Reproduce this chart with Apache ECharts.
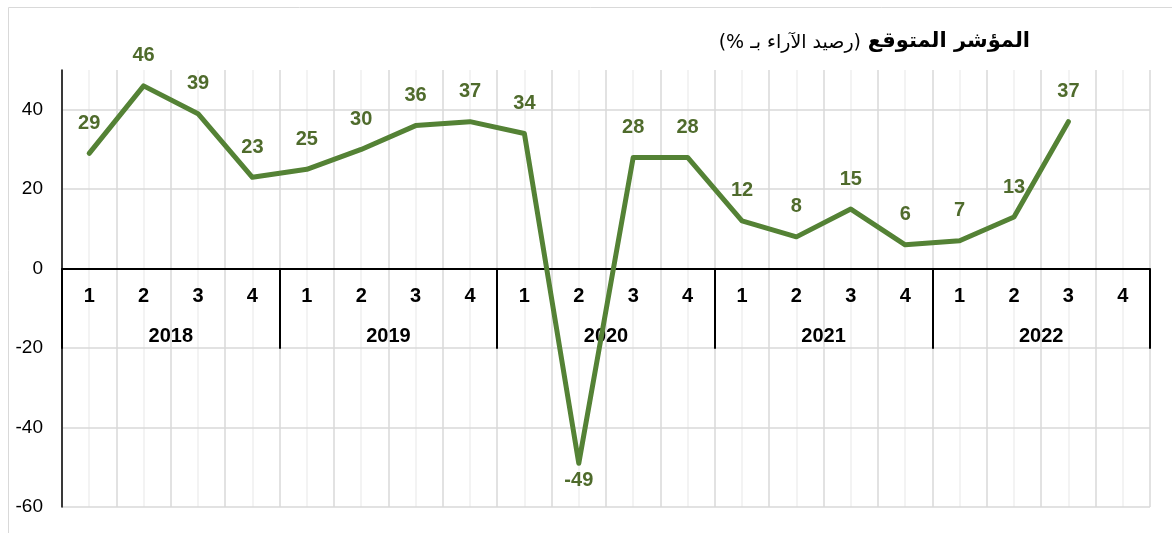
<!DOCTYPE html>
<html>
<head>
<meta charset="utf-8">
<script src="https://cdn.jsdelivr.net/npm/echarts@6/dist/echarts.min.js"></script>
<style>
  html, body { margin: 0; padding: 0; background: #fff; }
  #chart { width: 1172px; height: 533px; }
</style>
</head>
<body>
<div id="chart"></div>
<script>
// السنوات والفصول
const years = ['2018', '2019', '2020', '2021', '2022'];
const quarters = ['1', '2', '3', '4'];
const categories = years.flatMap(y => quarters.map(q => y + '-' + q));

// المؤشر المتوقع (رصيد الآراء)
const values = [29, 46, 39, 23, 25, 30, 36, 37, 34, -49, 28, 28, 12, 8, 15, 6, 7, 13, 37, null];

const yTicks = { min: -60, max: 50, step: 20 };

const green = '#548235';
const labelGreen = '#4f6b2c';
const grey = '#d9d9d9';

// موضع الشبكة
const grid = { left: 62, right: 22, top: 70, bottom: 26 };
const gridHeight = 533 - grid.top - grid.bottom;
// المسافة من أسفل الشبكة إلى خط الصفر
const zeroOffset = -gridHeight * (0 - yTicks.min) / (yTicks.max - yTicks.min);

let myChart = echarts.init(document.getElementById('chart'));

myChart.setOption({
  animation: false,
  title: [
    {
      text: 'المؤشر المتوقع',
      right: 137,
      top: 26,
      textStyle: { fontFamily: 'DejaVu Sans', fontWeight: 'bold', fontSize: 21, color: '#000' }
    },
    {
      text: '\u200F(رصيد الآراء بـ %)\u200F',
      right: 306,
      top: 29,
      textStyle: { fontFamily: 'DejaVu Sans', fontWeight: 'normal', fontSize: 19, color: '#000' }
    }
  ],
  graphic: [
    {
      type: 'rect',
      shape: { x: 8.5, y: 7.5, width: 1200, height: 600 },
      style: { fill: 'none', stroke: grey, lineWidth: 1 },
      silent: true
    }
  ],
  grid: {
    left: grid.left,
    right: grid.right,
    top: grid.top,
    bottom: grid.bottom,
    containLabel: false,
    outerBoundsMode: 'none'
  },
  xAxis: [
    {
      // الفصول
      type: 'category',
      data: categories,
      position: 'bottom',
      offset: zeroOffset,
      z: 3,
      axisLine: { onZero: false, lineStyle: { color: '#000', width: 2 } },
      axisTick: { show: false },
      splitLine: { show: false },
      axisLabel: {
        margin: 18,
        formatter: v => v.split('-')[1],
        fontFamily: 'Liberation Sans Narrow, Arial Narrow, Liberation Sans, Arial',
        fontWeight: 'bold',
        fontSize: 20,
        color: '#000'
      }
    },
    {
      // السنوات
      type: 'category',
      data: years,
      position: 'bottom',
      offset: zeroOffset,
      z: 3,
      axisLine: { show: false, onZero: false },
      axisTick: { show: true, length: 80, lineStyle: { color: '#000', width: 2 } },
      splitLine: { show: false },
      axisLabel: {
        margin: 58,
        fontFamily: 'Liberation Sans Narrow, Arial Narrow, Liberation Sans, Arial',
        fontWeight: 'bold',
        fontSize: 20,
        color: '#000'
      }
    },
    {
      // خطوط الشبكة العمودية
      type: 'value',
      position: 'top',
      min: 0,
      max: categories.length,
      interval: 1,
      z: 0,
      axisLine: { show: false, onZero: false },
      axisTick: { show: false },
      axisLabel: { show: false },
      splitLine: { show: true, lineStyle: { color: grey, width: 1.5 } },
      minorTick: { show: false, splitNumber: 2 },
      minorSplitLine: { show: true, lineStyle: { color: '#f0f0f0', width: 1.5 } }
    }
  ],
  yAxis: {
    type: 'value',
    min: yTicks.min,
    max: yTicks.max,
    interval: yTicks.step,
    z: 3,
    axisLine: { show: true, onZero: false, lineStyle: { color: '#000', width: 1.5 } },
    axisTick: { show: false },
    splitLine: {
      show: true,
      lineStyle: { color: [grey, grey, grey, grey, grey, grey, 'rgba(0,0,0,0)'], width: 1.5 }
    },
    axisLabel: {
      margin: 19,
      formatter: v => (v === yTicks.max ? '' : v),
      fontFamily: 'Liberation Sans, Arial',
      fontSize: 19,
      color: '#000'
    }
  },
  series: [
    {
      name: 'المؤشر المتوقع',
      type: 'line',
      xAxisIndex: 0,
      data: values.map(v => (v !== null && v < 0 ? { value: v, label: { position: 'bottom', distance: 6 } } : v)),
      symbol: 'circle',
      symbolSize: 2,
      showSymbol: true,
      itemStyle: { color: green },
      lineStyle: { color: green, width: 5, cap: 'round', join: 'round' },
      z: 5,
      label: {
        show: true,
        position: 'top',
        distance: 19,
        fontFamily: 'Liberation Sans, Arial',
        fontWeight: 'bold',
        fontSize: 20,
        color: labelGreen
      }
    }
  ]
});
</script>
</body>
</html>
